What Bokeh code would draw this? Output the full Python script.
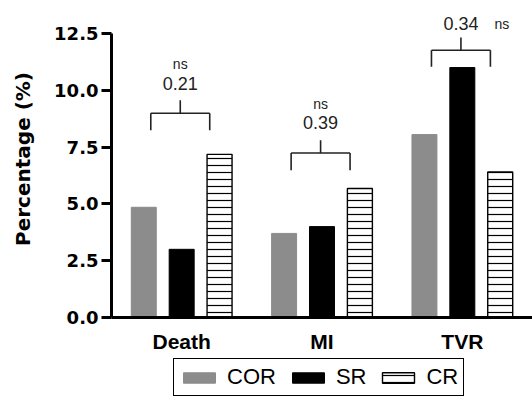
from bokeh.plotting import figure
from bokeh.layouts import column
from bokeh.models import (FactorRange, FixedTicker, NumeralTickFormatter, ColumnDataSource,
                          Legend, LegendItem, Range1d)
from bokeh.transform import dodge
from bokeh.core.properties import value
from bokeh.embed import file_html
from bokeh.resources import INLINE

# ---- data ----
categories = ["Death", "MI", "TVR"]
series = ["COR", "SR", "CR"]
cor = [4.85, 3.7, 8.05]
sr = [3.0, 4.0, 11.0]
cr = [7.18, 5.68, 6.4]
p_values = ["0.21", "0.39", "0.34"]
sig_labels = ["ns", "ns", "ns"]
y_ticks = [0, 2.5, 5, 7.5, 10, 12.5]

# annotation heights (data units)
bracket_top = [8.99, 7.24, 11.76]
bracket_leg = [8.24, 6.48, 11.03]
bracket_stem = [9.56, 7.8, 12.32]
p_text_y = [10.29, 8.6, 12.93]
ns_text_y = [11.15, 9.41, 12.9]

FONT = "Liberation Sans"
WIDE = "DejaVu Sans"

src = ColumnDataSource(dict(cat=categories, COR=cor, SR=sr, CR=cr, p=p_values, ns=sig_labels,
                            btop=bracket_top, bleg=bracket_leg, bstem=bracket_stem,
                            py=p_text_y, nsy=ns_text_y, nsdx=[0, 0, 41]))

p = figure(width=532, height=357, x_range=FactorRange(*categories), y_range=Range1d(0, 13.95),
           output_backend="svg", toolbar_location=None,
           min_border_left=111, min_border_right=0, min_border_top=0, min_border_bottom=40)
p.outline_line_color = None
p.xgrid.grid_line_color = None
p.ygrid.grid_line_color = None

offsets = [-0.27, 0.0, 0.27]
W = 0.178
cor_style = dict(fill_color="#8c8c8c", line_color="#8c8c8c")
sr_style = dict(fill_color="black", line_color="black")
cr_style = dict(fill_color="white", line_color="black", line_width=1.4,
                hatch_pattern="horizontal_line", hatch_scale=7, hatch_weight=1.2, hatch_color="black")

p.vbar(x=dodge("cat", offsets[0], range=p.x_range), top="COR", width=W, source=src, **cor_style)
p.vbar(x=dodge("cat", offsets[1], range=p.x_range), top="SR", width=W, source=src, **sr_style)
p.vbar(x=dodge("cat", offsets[2], range=p.x_range), top="CR", width=W, source=src, **cr_style)

# brackets
bl = dodge("cat", -0.22, range=p.x_range)
br = dodge("cat", 0.2, range=p.x_range)
bc = dodge("cat", -0.01, range=p.x_range)
bk = dict(line_color="#222222", line_width=1.6, source=src)
p.segment(x0=bl, x1=br, y0="btop", y1="btop", **bk)
p.segment(x0=bl, x1=bl, y0="btop", y1="bleg", **bk)
p.segment(x0=br, x1=br, y0="btop", y1="bleg", **bk)
p.segment(x0=bc, x1=bc, y0="btop", y1="bstem", **bk)

p.text(x=bc, y="py", text="p", source=src, text_align="center", text_baseline="middle",
       text_font=value(FONT), text_font_size="18px", text_color="#222222")
p.text(x=bc, y="nsy", text="ns", x_offset="nsdx", source=src, text_align="center",
       text_baseline="middle", text_font=value(FONT), text_font_size="14px", text_color="#222222")

# axes
ya = p.yaxis[0]
ya.ticker = FixedTicker(ticks=y_ticks)
ya.formatter = NumeralTickFormatter(format="0.0")
ya.bounds = (0, 12.5)
ya.axis_line_width = 3
ya.major_tick_line_width = 3
ya.major_tick_out = 10
ya.major_tick_in = 0
ya.minor_tick_line_color = None
ya.major_label_standoff = 3
ya.major_label_text_font = WIDE
ya.major_label_text_font_style = "bold"
ya.major_label_text_font_size = "18px"
ya.major_label_text_color = "black"
ya.axis_label = "Percentage (%)"
ya.axis_label_text_font = WIDE
ya.axis_label_text_font_style = "bold"
ya.axis_label_text_font_size = "20px"
ya.axis_label_text_color = "black"
ya.axis_label_standoff = 16

xa = p.xaxis[0]
xa.axis_line_width = 3
xa.major_tick_line_color = None
xa.major_tick_out = 0
xa.major_tick_in = 0
xa.minor_tick_line_color = None
xa.major_label_standoff = 12
xa.major_label_text_font = FONT
xa.major_label_text_font_style = "bold"
xa.major_label_text_font_size = "21px"
xa.major_label_text_color = "black"

# legend strip (its frame is aligned with the main frame by the column layout)
lg = figure(width=532, height=40, x_range=Range1d(0, 1), y_range=Range1d(0, 1),
            output_backend="svg", toolbar_location=None,
            x_axis_location=None, y_axis_location=None,
            min_border_left=111, min_border_right=0, min_border_top=0, min_border_bottom=0)
lg.outline_line_color = None
lg.xgrid.grid_line_color = None
lg.ygrid.grid_line_color = None
# legend-only renderers, kept outside the strip's visible range
hidden = ColumnDataSource(dict(x=[5.0], top=[0.0]))
l_cor = lg.vbar(x="x", top="top", width=0.1, source=hidden, **cor_style)
l_sr = lg.vbar(x="x", top="top", width=0.1, source=hidden, **sr_style)
l_cr = lg.vbar(x="x", top="top", width=0.1, source=hidden, **cr_style)

legend = Legend(items=[LegendItem(label=s, renderers=[r]) for s, r in zip(series, [l_cor, l_sr, l_cr])],
                orientation="horizontal", location=(62, 1),
                border_line_color="black", border_line_width=1.5, border_line_alpha=1,
                padding=5, spacing=12, margin=0,
                glyph_width=40, glyph_height=13, label_standoff=8,
                label_text_font=FONT, label_text_font_size="22px", label_height=22,
                label_text_color="black")
lg.add_layout(legend, "center")

layout = column(p, lg, spacing=0)
open("out.html", "w").write(file_html(layout, INLINE))
